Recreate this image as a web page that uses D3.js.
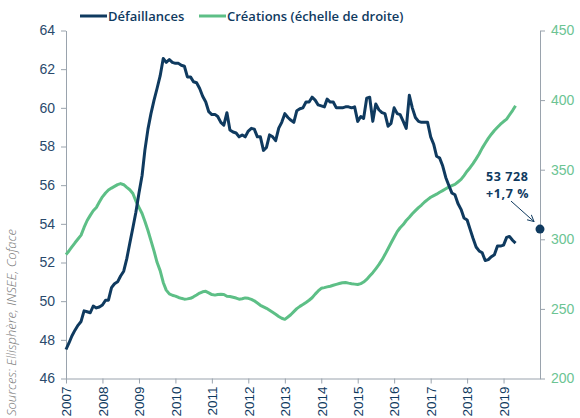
<!DOCTYPE html>
<html>
<head>
<meta charset="utf-8">
<script src="https://cdn.jsdelivr.net/npm/d3@7"></script>
<style>
  body { margin: 0; background: #fff; }
  svg { display: block; font-family: "Open Sans", sans-serif; }
</style>
</head>
<body>
<svg id="chart" width="580" height="418"></svg>
<script>
// Data (monthly, January 2007 to May 2019)
var startYear = 2007;
var yearTicks = [2007, 2008, 2009, 2010, 2011, 2012, 2013, 2014, 2015, 2016, 2017, 2018, 2019];
var leftTicks = [46, 48, 50, 52, 54, 56, 58, 60, 62, 64];
var rightTicks = [200, 250, 300, 350, 400, 450];

// Défaillances, thousands (left scale)
var defaillances = [
  47.5, 47.85, 48.2, 48.5, 48.75, 48.95, 49.5, 49.45, 49.4, 49.75, 49.65, 49.7,
  49.8, 50.05, 50.05, 50.7, 50.9, 51.0, 51.3, 51.55, 52.2, 53.0, 53.8, 54.6,
  55.6, 56.5, 57.8, 58.9, 59.7, 60.4, 61.0, 61.65, 62.55, 62.35, 62.5, 62.35,
  62.3, 62.3, 62.2, 62.15, 61.6, 61.6, 61.35, 61.3, 61.0, 60.6, 60.3, 59.8,
  59.65, 59.66, 59.55, 59.25, 59.1, 59.75, 58.85, 58.75, 58.7, 58.5, 58.6, 58.5,
  58.8, 58.94, 58.9, 58.5, 58.5, 57.8, 57.95, 58.6, 58.5, 58.3, 58.95, 59.25,
  59.7, 59.5, 59.37, 59.25, 59.85, 59.95, 60.0, 60.3, 60.3, 60.55, 60.4, 60.15,
  60.1, 60.05, 60.45, 60.3, 60.3, 60.0, 60.0, 60.0, 60.05, 60.05, 60.0, 60.05,
  59.3, 59.55, 59.45, 60.5, 60.55, 59.3, 60.2, 59.9, 59.75, 59.7, 59.05, 59.2,
  60.0, 59.7, 59.65, 59.3, 58.94, 60.65, 60.0, 59.5, 59.3, 59.25, 59.25, 59.25,
  58.5, 58.1, 57.5, 57.4, 57.0, 56.4, 56.0, 55.6, 55.5, 55.05, 54.75, 54.3,
  54.2, 53.7, 53.25, 52.8, 52.6, 52.5, 52.1, 52.15, 52.3, 52.4, 52.85, 52.85,
  52.9, 53.3, 53.35, 53.15, 53.0
];

// Créations, thousands (right scale)
var creations = [
  289, 291.8, 294.5, 297.5, 300.2, 303, 308.5, 313.5, 317.2, 320.5, 322.8, 326.8,
  330.5, 333.3, 335.4, 336.8, 338, 339.3, 340, 339.2, 337.3, 335.6, 332.9, 327.5,
  322.9, 318.5, 313, 306.3, 299, 291.5, 283.5, 277.5, 269, 263.5, 260.8, 259.8,
  259.2, 258.2, 257.6, 257, 257.2, 257.6, 258.7, 260, 261.4, 262.3, 262.6, 261.5,
  260.3, 259.9, 260.4, 260.5, 260.4, 259.1, 258.9, 258.4, 257.8, 257, 257.3, 257.9,
  257.6, 256.8, 255.8, 254.2, 252.6, 251.5, 250.4, 249, 247.6, 246.2, 244.6, 243.3,
  242.5, 244.2, 245.8, 248, 250.2, 251.8, 253.1, 254.6, 256.2, 258, 260.6, 262.9,
  264.8, 265.3, 265.8, 266.3, 267, 267.6, 268.2, 268.8, 269, 268.5, 268.1, 267.8,
  267.5, 268.2, 269.3, 271.2, 273.6, 276, 278.8, 281.8, 285.2, 289, 293.2, 297.3,
  301.5, 305.5, 308.3, 310.6, 313.5, 315.8, 318.3, 320.6, 322.8, 324.6, 326.8, 328.5,
  330.2, 331.4, 332.4, 333.8, 335, 336.3, 337.5, 338.5, 339.5, 341.2, 343, 345.8,
  348.9, 351.6, 354.4, 357.8, 361.3, 365.5, 369, 372.5, 375.5, 378.2, 380.5, 382.7,
  384.6, 386.3, 389.3, 392.5, 396
];

// Forecast point (end 2019)
var forecastValue = 53.728;
var forecastLabel = ["53 728", "+1,7 %"];

// Style
var navy = "#0f3a5f";
var green = "#5dbf86";
var axisGrey = "#9aa3ad";

var svg = d3.select("#chart");

var x = d3.scaleTime()
    .domain([new Date(startYear, 0, 1), new Date(2020, 0, 1)])
    .range([66, 540]);
var yL = d3.scaleLinear().domain([46, 64]).range([378.5, 30.5]);
var yR = d3.scaleLinear().domain([200, 450]).range([378.5, 30.5]);

function monthDate(i){
    return d3.timeMonth.offset(new Date(startYear, 0, 1), i);
}

// ## Axes
var gx = svg.append("g")
    .attr("transform", "translate(0," + yL.range()[0] + ")")
    .call(d3.axisBottom(x)
        .tickValues(yearTicks.map(function(y){ return new Date(y, 0, 1); }))
        .tickFormat(d3.timeFormat("%Y"))
        .tickSize(5)
        .tickSizeOuter(0));
gx.selectAll("text")
    .attr("transform", "rotate(-90)")
    .attr("x", -8)
    .attr("y", 0)
    .attr("dy", "0.35em")
    .style("text-anchor", "end")
    .style("font-size", "13.5px")
    .attr("fill", navy);

var gl = svg.append("g")
    .attr("transform", "translate(" + x.range()[0] + ",0)")
    .call(d3.axisLeft(yL).tickValues(leftTicks).tickSize(5).tickSizeOuter(0).tickPadding(6));
gl.selectAll("text").style("font-size", "14px").attr("fill", "#2a4a6c");

var gr = svg.append("g")
    .attr("transform", "translate(" + x.range()[1] + ",0)")
    .call(d3.axisRight(yR).tickValues(rightTicks).tickSize(5).tickSizeOuter(0).tickPadding(6));
gr.selectAll("text").style("font-size", "14px").attr("fill", "#6cc493");

svg.selectAll(".domain, .tick line").attr("stroke", axisGrey);

// ## Lines
var lineL = d3.line()
    .x(function(d, i){ return x(monthDate(i)); })
    .y(function(d){ return yL(d); });
var lineR = d3.line()
    .x(function(d, i){ return x(monthDate(i)); })
    .y(function(d){ return yR(d); });

svg.append("path")
    .datum(creations)
    .attr("d", lineR)
    .attr("fill", "none")
    .attr("stroke", green)
    .attr("stroke-width", 3)
    .attr("stroke-linejoin", "round");

svg.append("path")
    .datum(defaillances)
    .attr("d", lineL)
    .attr("fill", "none")
    .attr("stroke", navy)
    .attr("stroke-width", 3)
    .attr("stroke-linejoin", "round");

// ## Forecast point and annotation
var fx = x(new Date(2020, 0, 1));
var fy = yL(forecastValue);

svg.append("defs").append("marker")
    .attr("id", "arrow")
    .attr("viewBox", "0 0 10 10")
    .attr("refX", 9).attr("refY", 5)
    .attr("markerWidth", 8).attr("markerHeight", 8)
    .attr("orient", "auto")
    .append("path")
    .attr("d", "M1,1 L9,5 L1,9")
    .attr("fill", "none")
    .attr("stroke", navy)
    .attr("stroke-width", 1.2);

svg.append("line")
    .attr("x1", fx - 29).attr("y1", fy - 28)
    .attr("x2", fx - 6).attr("y2", fy - 7.5)
    .attr("stroke", navy)
    .attr("stroke-width", 1)
    .attr("marker-end", "url(#arrow)");

svg.append("circle")
    .attr("cx", fx).attr("cy", fy).attr("r", 4.5)
    .attr("fill", navy);

svg.selectAll(".annot")
    .data(forecastLabel)
    .enter().append("text")
    .attr("class", "annot")
    .attr("x", 486)
    .attr("y", function(d, i){ return 180.5 + i * 17; })
    .attr("fill", navy)
    .style("font-size", "12.5px")
    .style("font-weight", 700)
    .style("letter-spacing", "0.6px")
    .text(function(d){ return d; });

// ## Legend
var legend = [
    {label: "Défaillances", color: navy, x: 80},
    {label: "Créations (échelle de droite)", color: green, x: 199}
];
var lg = svg.selectAll(".legend").data(legend).enter().append("g")
    .attr("class", "legend")
    .attr("transform", function(d){ return "translate(" + d.x + ",16)"; });
lg.append("line")
    .attr("x1", 0).attr("x2", 27)
    .attr("stroke", function(d){ return d.color; })
    .attr("stroke-width", 3);
lg.append("text")
    .attr("x", 28).attr("dy", "0.35em")
    .attr("fill", navy)
    .style("font-size", "13px")
    .style("font-weight", 600)
    .text(function(d){ return d.label; });

// ## Sources
svg.append("text")
    .attr("transform", "translate(16,416) rotate(-90)")
    .attr("fill", "#7a7a7a")
    .style("font-size", "13px")
    .style("font-style", "italic")
    .style("font-weight", 300)
    .text("Sources: Ellisphère, INSEE, Coface");
</script>
</body>
</html>
